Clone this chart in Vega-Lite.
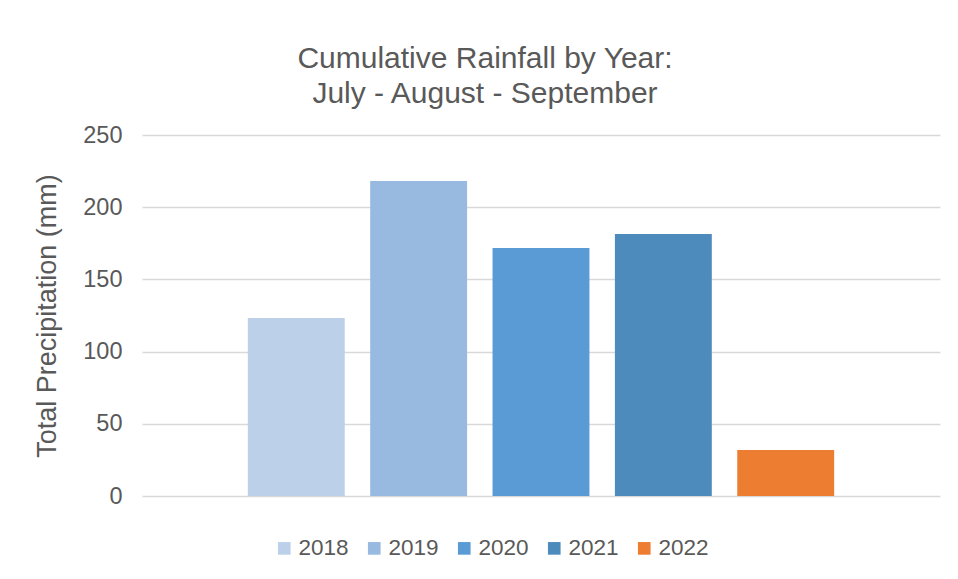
{
  "$schema": "https://vega.github.io/schema/vega-lite/v6.json",
  "width": 798,
  "height": 361,
  "autosize": {"type": "none"},
  "padding": {"left": 142, "top": 135, "right": 18, "bottom": 83},
  "background": "white",
  "title": {
    "text": ["Cumulative Rainfall by Year:", "July - August - September"],
    "font": "Liberation Sans",
    "fontSize": 30,
    "fontWeight": "normal",
    "color": "#595959",
    "anchor": "middle",
    "frame": "group",
    "dx": -56,
    "baseline": "bottom",
    "offset": -16,
    "lineHeight": 35
  },
  "data": {
    "values": [
      {"year": "2018", "precip": 123.3},
      {"year": "2019", "precip": 218.1},
      {"year": "2020", "precip": 171.7},
      {"year": "2021", "precip": 181.4},
      {"year": "2022", "precip": 31.9}
    ]
  },
  "mark": {"type": "bar"},
  "encoding": {
    "x": {
      "field": "year",
      "type": "nominal",
      "scale": {"paddingInner": 0.208, "paddingOuter": 0.865},
      "axis": null
    },
    "y": {
      "field": "precip",
      "type": "quantitative",
      "scale": {"domain": [0, 250]},
      "axis": {
        "title": "Total Precipitation (mm)",
        "values": [0, 50, 100, 150, 200, 250],
        "domain": false,
        "ticks": false,
        "labelPadding": 20,
        "labelFont": "Liberation Sans",
        "labelFontSize": 23.5,
        "labelColor": "#595959",
        "grid": true,
        "gridColor": "#d9d9d9",
        "gridWidth": 1.4,
        "titleFont": "Liberation Sans",
        "titleFontSize": 27,
        "titleFontWeight": "normal",
        "titleColor": "#595959",
        "titleBaseline": "alphabetic",
        "titleAngle": -90,
        "titleX": -87,
        "titleY": 180.5
      }
    },
    "color": {
      "field": "year",
      "type": "nominal",
      "scale": {
        "domain": ["2018", "2019", "2020", "2021", "2022"],
        "range": ["#bdd0ea", "#98b9e0", "#5b9bd5", "#4e8bbd", "#ed7d31"]
      },
      "legend": {
        "title": null,
        "orient": "none",
        "direction": "horizontal",
        "legendX": 131,
        "legendY": 402,
        "symbolType": "square",
        "symbolSize": 160,
        "symbolStrokeWidth": 0,
        "labelOffset": 3,
        "columnPadding": 14,
        "labelFont": "Liberation Sans",
        "labelFontSize": 22.5,
        "labelColor": "#595959"
      }
    }
  },
  "config": {"view": {"stroke": null}}
}
